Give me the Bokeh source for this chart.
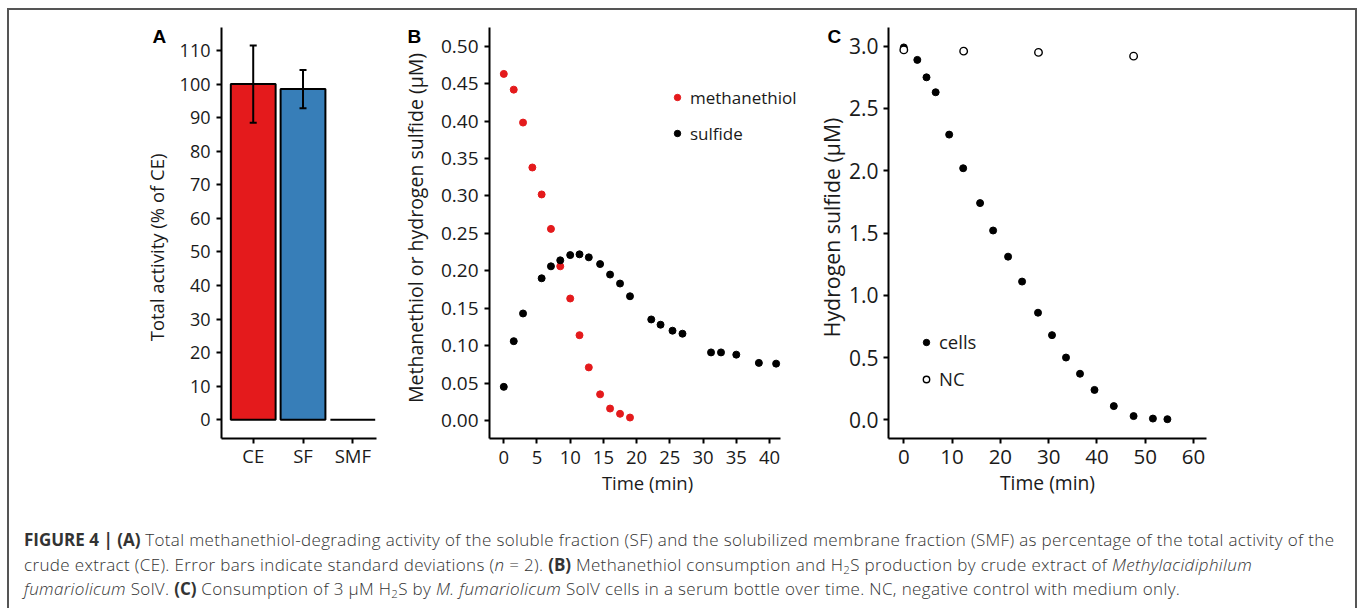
from bokeh.plotting import figure
from bokeh.layouts import column, row
from bokeh.models import (Range1d, FixedTicker, Legend, LegendItem, Div,
                          Whisker, TeeHead, ColumnDataSource, NumeralTickFormatter)
from bokeh.embed import file_html
from bokeh.resources import INLINE

# ---------------- data ----------------
categories = ["CE", "SF", "SMF"]
activity = [100, 98.5, 0]
activity_sd = [11.5, 5.7, 0]
bar_colors = ["#E41A1C", "#377EB8", "#FFFFFF"]
ticks_a = [0, 10, 20, 30, 40, 50, 60, 70, 80, 90, 100, 110]

time_mt = [0, 1.5, 2.9, 4.3, 5.7, 7.1, 8.5, 10.0, 11.4, 12.8, 14.5, 16.0, 17.5, 19.0]
methanethiol = [0.463, 0.442, 0.398, 0.338, 0.302, 0.256, 0.206, 0.163, 0.114,
                0.071, 0.035, 0.016, 0.009, 0.004]
time_sulf = [0, 1.5, 2.9, 5.7, 7.1, 8.5, 10.0, 11.4, 12.8, 14.5, 16.0, 17.5, 19.0,
             22.2, 23.6, 25.4, 26.9, 31.2, 32.7, 35.0, 38.4, 41.0]
sulfide = [0.045, 0.106, 0.143, 0.190, 0.206, 0.214, 0.221, 0.222, 0.218, 0.209,
           0.195, 0.183, 0.166, 0.135, 0.128, 0.120, 0.116, 0.091, 0.091, 0.088,
           0.077, 0.076]
ticks_b_x = [0, 5, 10, 15, 20, 25, 30, 35, 40]
ticks_b_y = [0, 0.05, 0.10, 0.15, 0.20, 0.25, 0.30, 0.35, 0.40, 0.45, 0.50]

time_cells = [0, 2.8, 4.7, 6.6, 9.4, 12.3, 15.8, 18.5, 21.6, 24.5, 27.8, 30.7,
              33.6, 36.5, 39.5, 43.5, 47.6, 51.6, 54.6]
cells = [2.99, 2.89, 2.75, 2.63, 2.29, 2.02, 1.74, 1.52, 1.31, 1.11, 0.86, 0.68,
         0.50, 0.37, 0.24, 0.11, 0.03, 0.01, 0.005]
time_nc = [0, 12.4, 27.9, 47.6]
nc = [2.97, 2.96, 2.95, 2.92]
ticks_c_x = [0, 10, 20, 30, 40, 50, 60]
ticks_c_y = [0, 0.5, 1.0, 1.5, 2.0, 2.5, 3.0]

FONT = "Open Sans"
INK = "#1a1a1a"
NB = "\u00a0"
FIG_H = 510


def style(p, xtick="18.5px", ytick="18.5px", xlab="18.5px", ylab="18.5px"):
    p.xgrid.visible = False
    p.ygrid.visible = False
    p.outline_line_color = None
    p.background_fill_color = "white"
    p.border_fill_color = "white"
    for ax in (p.xaxis[0], p.yaxis[0]):
        ax.axis_line_width = 2
        ax.axis_line_color = "black"
        ax.major_tick_line_width = 2
        ax.major_tick_line_color = "black"
        ax.major_tick_out = 5
        ax.major_tick_in = 0
        ax.minor_tick_line_color = None
        ax.major_label_text_font = FONT
        ax.major_label_text_color = INK
        ax.axis_label_text_font = FONT
        ax.axis_label_text_font_style = "normal"
        ax.axis_label_text_color = INK
        ax.major_label_standoff = 6
    p.xaxis[0].major_label_standoff = 7
    p.xaxis[0].major_label_text_font_size = xtick
    p.yaxis[0].major_label_text_font_size = ytick
    p.xaxis[0].axis_label_text_font_size = xlab
    p.yaxis[0].axis_label_text_font_size = ylab


def panel_letter(p, t, offset):
    p.title.text = "\n" + t
    p.title.align = "left"
    p.title.offset = offset
    p.title.standoff = -40
    p.title.text_line_height = 0.35
    p.title.text_font = "Liberation Sans"
    p.title.text_font_style = "bold"
    p.title.text_font_size = "19px"
    p.title.text_color = "black"


def legend(items, loc, size):
    return Legend(items=items, location=loc, padding=0, spacing=12, margin=0,
                  glyph_width=16, glyph_height=24, label_height=24, label_standoff=5,
                  label_text_font=FONT, label_text_font_size=size,
                  label_text_color=INK, border_line_color=None,
                  background_fill_alpha=0)


# ---------------- Panel A ----------------
pA = figure(width=380, height=FIG_H, x_range=Range1d(0.363, 3.476),
            y_range=Range1d(-5.57, 116.85), output_backend="svg",
            toolbar_location=None, min_border_left=212, min_border_right=13,
            min_border_top=17, min_border_bottom=FIG_H - 428)
style(pA, xtick="18.5px", ytick="18px", xlab="18.5px", ylab="18.5px")
xa = list(range(1, len(categories) + 1))
srcA = ColumnDataSource(dict(x=xa, top=activity, color=bar_colors))
pA.vbar(x="x", top="top", bottom=0, width=0.9, fill_color="color",
        line_color="black", line_width=2, source=srcA)
srcErr = ColumnDataSource(dict(x=xa[:2],
                               upper=[a + s for a, s in zip(activity[:2], activity_sd[:2])],
                               lower=[a - s for a, s in zip(activity[:2], activity_sd[:2])]))
pA.add_layout(Whisker(base="x", upper="upper", lower="lower", source=srcErr,
                      line_width=2, line_color="black", level="overlay",
                      upper_head=TeeHead(size=7, line_width=2, line_color="black"),
                      lower_head=TeeHead(size=7, line_width=2, line_color="black")))
pA.xaxis.ticker = FixedTicker(ticks=xa)
pA.xaxis.major_label_overrides = {i: c for i, c in zip(xa, categories)}
pA.xaxis.major_label_standoff = -1
pA.yaxis.ticker = FixedTicker(ticks=ticks_a)
pA.yaxis.axis_label = "Total activity (% of CE)" + NB * 6
pA.yaxis.axis_label_standoff = 8
panel_letter(pA, "A", -69)

# ---------------- Panel B ----------------
pB = figure(width=416, height=FIG_H, x_range=Range1d(-2.15, 45.42),
            y_range=Range1d(-0.024, 0.525), output_backend="svg",
            toolbar_location=None, min_border_left=100, min_border_right=0,
            min_border_top=17, min_border_bottom=FIG_H - 428)
style(pB, xtick="18.5px", ytick="19px", xlab="18.5px", ylab="19.5px")
rMt = pB.scatter(time_mt, methanethiol, size=7, color="#E41A1C")
rSu = pB.scatter(time_sulf, sulfide, size=7, color="black")
pB.xaxis.ticker = FixedTicker(ticks=ticks_b_x)
pB.xaxis.bounds = (-2.15, 41.65)
pB.yaxis.ticker = FixedTicker(ticks=ticks_b_y)
pB.yaxis.formatter = NumeralTickFormatter(format="0.00")
pB.xaxis.axis_label = "Time (min)"
pB.xaxis.axis_label_standoff = 3
pB.yaxis.axis_label = NB * 2 + "Methanethiol or hydrogen sulfide (\u00b5M)"
pB.yaxis.axis_label_standoff = 9
pB.add_layout(legend([LegendItem(label="methanethiol", renderers=[rMt]),
                      LegendItem(label="sulfide", renderers=[rSu])], (180, 293), "17px"))
panel_letter(pB, "B", -82)

# ---------------- Panel C ----------------
pC = figure(width=550, height=FIG_H, x_range=Range1d(-3.17, 62.7),
            y_range=Range1d(-0.150, 3.150), output_backend="svg",
            toolbar_location=None, min_border_left=83, min_border_right=149,
            min_border_top=17, min_border_bottom=FIG_H - 428)
style(pC, xtick="20.5px", ytick="21px", xlab="19.3px", ylab="21.3px")
rCe = pC.scatter(time_cells, cells, size=7, color="black")
rNc = pC.scatter(time_nc, nc, size=7.5, fill_color="white", line_color="black",
                 line_width=1.4)
pC.xaxis.ticker = FixedTicker(ticks=ticks_c_x)
pC.xaxis.major_label_standoff = 6
pC.yaxis.ticker = FixedTicker(ticks=ticks_c_y)
pC.yaxis.formatter = NumeralTickFormatter(format="0.0")
pC.yaxis.major_label_standoff = 5
pC.xaxis.axis_label = "Time (min)"
pC.xaxis.axis_label_standoff = 2
pC.yaxis.axis_label = NB * 2 + "Hydrogen sulfide (\u00b5M)"
pC.yaxis.axis_label_standoff = 0
pC.add_layout(legend([LegendItem(label="cells", renderers=[rCe]),
                      LegendItem(label="NC", renderers=[rNc])], (30, 47), "18.5px"))
panel_letter(pC, "C", -61)

# ---------------- caption ----------------
SUB = '<sub style="font-size:11.5px;vertical-align:-3px;line-height:0">2</sub>'
caption_html = (
    '<div style="margin-top:8px;margin-left:15px;white-space:nowrap;'
    'font-family:\'Open Sans\';font-weight:300;font-size:17px;letter-spacing:0.35px;'
    'line-height:24.6px;color:#333;">'
    '<b style="font-weight:700;letter-spacing:0">FIGURE 4 | (A)</b> Total methanethiol-degrading activity of the soluble '
    'fraction (SF) and the solubilized membrane fraction (SMF) as percentage of the total activity of the<br>'
    'crude extract (CE). Error bars indicate standard deviations (<i>n</i> = 2). '
    '<b style="font-weight:700;letter-spacing:0">(B)</b> Methanethiol consumption and H' + SUB + 'S '
    'production by crude extract of <i>Methylacidiphilum</i><br>'
    '<i>fumariolicum</i> SolV. <b style="font-weight:700;letter-spacing:0">(C)</b> Consumption of 3 \u03bcM '
    'H' + SUB + 'S by <i>M. fumariolicum</i> SolV cells in a serum bottle over time. '
    'NC, negative control with medium only.</div>'
)
cap = Div(text=caption_html, width=1346, height=598 - FIG_H, margin=0)

layout = column(row(pA, pB, pC, spacing=0), cap, spacing=0, margin=(8, 0, 0, 7),
                styles={"border-top": "2px solid #555",
                        "border-left": "2px solid #555",
                        "border-right": "2px solid #555"})

open("out.html", "w").write(file_html(layout, INLINE))
